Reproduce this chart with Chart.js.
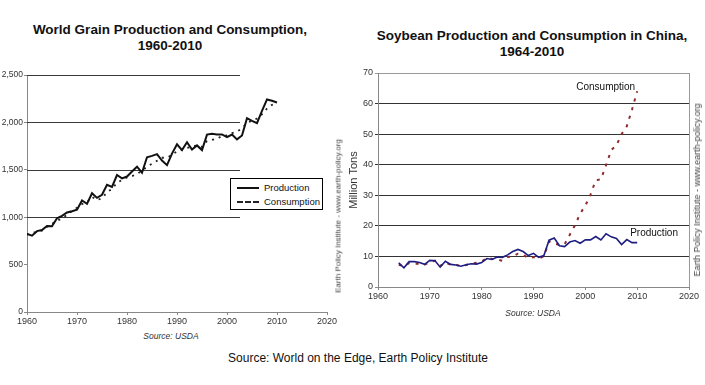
<!DOCTYPE html>
<html>
<head>
<meta charset="utf-8">
<script src="https://cdn.jsdelivr.net/npm/chart.js@4.4.1/dist/chart.umd.min.js"></script>
<style>
  html, body { margin: 0; padding: 0; background: #fff; }
  body { width: 705px; height: 385px; position: relative; overflow: hidden;
         font-family: "Liberation Sans", Arial, sans-serif; color: #111; }
  .abs { position: absolute; }
  .title { font-weight: bold; font-size: 13.5px; line-height: 16px; text-align: center; white-space: nowrap;
           transform: translateX(-50%); }
  .src { font-style: italic; font-size: 8.5px; color: #333; white-space: nowrap; transform: translate(-50%, -50%); }
  .vert { white-space: nowrap; color: #444; transform: translate(-50%, -50%) rotate(-90deg); }
  .box { position: absolute; left: 0; top: 0; }
  #legendGrain { position: absolute; left: 230px; top: 178px; width: 91px; height: 30px;
                 border: 1px solid #000; background: #fff; font-size: 9.5px; }
  #legendGrain .row { position: absolute; left: 0; height: 12px; line-height: 12px; white-space: nowrap; }
  #legendGrain .sample { position: absolute; left: 6px; top: 5px; width: 22px; height: 0; }
  #legendGrain .txt { position: absolute; left: 33px; top: 0; }
</style>
</head>
<body>
  <div class="abs title" style="left:170px; top:22px;">World Grain Production and Consumption,<br>1960-2010</div>
  <div class="abs title" style="left:532px; top:28px;">Soybean Production and Consumption in China,<br>1964-2010</div>

  <div class="box" style="left:0; top:60px; width:340px; height:270px;"><canvas id="chartGrain"></canvas></div>
  <div class="box" style="left:340px; top:60px; width:365px; height:260px;"><canvas id="chartSoy"></canvas></div>
  <div id="legendGrain"></div>

  <div class="abs vert" style="left:338px; top:216px; font-size:8px;">Earth Policy Institute - www.earth-policy.org</div>
  <div class="abs vert" style="left:697px; top:190px; font-size:9px;">Earth Policy Institute - www.earth-policy.org</div>

  <div class="abs src" style="left:171px; top:336px;">Source: USDA</div>
  <div class="abs src" style="left:533px; top:313px;">Source: USDA</div>
  <div class="abs" style="left:358px; top:358px; font-size:12px; white-space:nowrap; transform:translate(-50%,-50%);">Source: World on the Edge, Earth Policy Institute</div>

<script>
  // World grain, million tons
  const grainYears = [1960, 1961, 1962, 1963, 1964, 1965, 1966, 1967, 1968, 1969,
    1970, 1971, 1972, 1973, 1974, 1975, 1976, 1977, 1978, 1979,
    1980, 1981, 1982, 1983, 1984, 1985, 1986, 1987, 1988, 1989,
    1990, 1991, 1992, 1993, 1994, 1995, 1996, 1997, 1998, 1999,
    2000, 2001, 2002, 2003, 2004, 2005, 2006, 2007, 2008, 2009, 2010];
  const grainProduction = [824, 805, 853, 864, 908, 905, 988, 1014, 1050, 1063,
    1079, 1177, 1141, 1253, 1204, 1237, 1342, 1319, 1445, 1410,
    1429, 1482, 1533, 1469, 1632, 1647, 1665, 1598, 1549, 1671,
    1769, 1708, 1790, 1713, 1757, 1708, 1871, 1879, 1872, 1873,
    1844, 1872, 1821, 1862, 2044, 2017, 1992, 2121, 2242, 2229, 2210];
  const grainConsumption = [817, 832, 848, 858, 900, 930, 962, 986, 1024, 1066,
    1101, 1138, 1157, 1214, 1180, 1200, 1263, 1300, 1363, 1393,
    1420, 1433, 1456, 1491, 1533, 1564, 1595, 1627, 1627, 1656,
    1696, 1710, 1731, 1746, 1757, 1742, 1803, 1815, 1830, 1855,
    1862, 1887, 1903, 1938, 1992, 2020, 2040, 2086, 2146, 2186, 2196];

  // China soybeans, million tons
  const soyYears = [1964, 1965, 1966, 1967, 1968, 1969,
    1970, 1971, 1972, 1973, 1974, 1975, 1976, 1977, 1978, 1979,
    1980, 1981, 1982, 1983, 1984, 1985, 1986, 1987, 1988, 1989,
    1990, 1991, 1992, 1993, 1994, 1995, 1996, 1997, 1998, 1999,
    2000, 2001, 2002, 2003, 2004, 2005, 2006, 2007, 2008, 2009, 2010];
  const soyProduction = [7.9, 6.3, 8.3, 8.3, 8.0, 7.4,
    8.7, 8.6, 6.5, 8.4, 7.4, 7.2, 6.8, 7.3, 7.6, 7.5,
    8.0, 9.3, 9.0, 9.8, 9.7, 10.5, 11.6, 12.3, 11.6, 10.3,
    11.0, 9.7, 10.3, 15.3, 16.0, 13.5, 13.2, 14.7, 15.2, 14.3,
    15.4, 15.4, 16.5, 15.4, 17.4, 16.4, 15.9, 13.9, 15.5, 14.5, 14.5];
  const soyConsumption = [7.3, 6.8, 7.8, 7.6, 7.6, 7.3,
    8.2, 8.6, 6.9, 8.0, 7.3, 7.2, 6.9, 7.2, 7.7, 7.9,
    8.3, 9.5, 9.2, 9.0, 8.6, 9.8, 10.0, 10.9, 10.6, 9.4,
    9.8, 9.3, 10.0, 14.9, 14.2, 13.8, 14.0, 17.1, 20.2, 24.0,
    26.6, 30.2, 34.9, 35.2, 39.9, 44.8, 46.3, 50.0, 52.6, 58.0, 64.0];

  const xTicks = [1960, 1970, 1980, 1990, 2000, 2010, 2020];

  function points(xs, ys) {
    return xs.map((x, i) => ({ x, y: ys[i] }));
  }

  // grid lines that stop short of the right edge (left panel)
  const partialGrid = {
    id: 'partialGrid',
    beforeDatasetsDraw(chart, args, opts) {
      if (!opts || opts.endX == null) return;
      const { ctx, scales: { x, y } } = chart;
      ctx.save();
      ctx.strokeStyle = opts.color;
      ctx.lineWidth = 1;
      const x0 = x.left;
      const x1 = x.getPixelForValue(opts.endX);
      y.ticks.forEach(t => {
        if (t.value < opts.fromY) return;
        const py = Math.round(y.getPixelForValue(t.value)) + 0.5;
        ctx.beginPath();
        ctx.moveTo(x0, py);
        ctx.lineTo(x1, py);
        ctx.stroke();
      });
      ctx.restore();
    }
  };

  // right-hand frame line (right panel)
  const rightFrame = {
    id: 'rightFrame',
    beforeDatasetsDraw(chart, args, opts) {
      if (!opts || !opts.color) return;
      const { ctx, chartArea } = chart;
      ctx.save();
      ctx.strokeStyle = opts.color;
      ctx.lineWidth = 1;
      const px = Math.round(chartArea.right) + 0.5;
      ctx.beginPath();
      ctx.moveTo(px, chartArea.top);
      ctx.lineTo(px, chartArea.bottom);
      ctx.stroke();
      ctx.restore();
    }
  };

  // series names written next to the end of each line
  const seriesLabels = {
    id: 'seriesLabels',
    afterDatasetsDraw(chart, args, opts) {
      if (!opts || !opts.offsets) return;
      const { ctx } = chart;
      ctx.save();
      ctx.font = opts.font;
      ctx.fillStyle = opts.color;
      ctx.textBaseline = 'middle';
      chart.data.datasets.forEach((ds, i) => {
        const off = opts.offsets[i];
        if (!off) return;
        const meta = chart.getDatasetMeta(i);
        const last = meta.data[meta.data.length - 1];
        ctx.textAlign = off[2];
        ctx.fillText(ds.label, last.x + off[0], last.y + off[1]);
      });
      ctx.restore();
    }
  };

  const tickFont = { family: '"Liberation Sans", Arial, sans-serif', size: 9 };

  function xScale(fitHeight) {
    return {
      type: 'linear', min: 1960, max: 2020,
      afterBuildTicks: s => { s.ticks = xTicks.map(v => ({ value: v })); },
      ticks: { callback: v => String(v), font: tickFont, color: '#333', padding: 1, maxRotation: 0 },
      grid: { drawOnChartArea: false, drawTicks: true, tickLength: 3, color: '#888' },
      border: { color: '#888' },
      afterFit: s => { s.height = fitHeight; }
    };
  }

  const chartGrain = new Chart(document.getElementById('chartGrain'), {
    type: 'line',
    data: {
      datasets: [
        {
          label: 'Production',
          data: points(grainYears, grainProduction),
          borderColor: '#111',
          borderWidth: 2,
          pointRadius: 0,
          tension: 0
        },
        {
          label: 'Consumption',
          data: points(grainYears, grainConsumption),
          borderColor: '#222',
          borderWidth: 1.8,
          borderDash: [2, 5],
          pointRadius: 0,
          tension: 0
        }
      ]
    },
    options: {
      responsive: true,
      maintainAspectRatio: false,
      animation: false,
      layout: { padding: { top: 15, right: 13, left: 0, bottom: 0 } },
      scales: {
        x: xScale(18),
        y: {
          min: 0, max: 2500,
          ticks: { stepSize: 500, font: { family: tickFont.family, size: 8.5 }, color: '#333', padding: 1 },
          grid: { drawOnChartArea: false, drawTicks: true, tickLength: 3, color: '#888' },
          border: { color: '#888' },
          afterFit: s => { s.width = 27; }
        }
      },
      plugins: {
        legend: { display: false },
        tooltip: { enabled: false },
        partialGrid: { endX: 2002.6, fromY: 1000, color: '#3a3a3a' }
      }
    },
    plugins: [partialGrid]
  });

  const chartSoy = new Chart(document.getElementById('chartSoy'), {
    type: 'line',
    data: {
      datasets: [
        {
          label: 'Production',
          data: points(soyYears, soyProduction),
          borderColor: '#1e1e82',
          borderWidth: 1.6,
          pointRadius: 0,
          tension: 0
        },
        {
          label: 'Consumption',
          data: points(soyYears, soyConsumption),
          borderColor: '#8e2b2b',
          borderWidth: 2,
          borderDash: [3, 6],
          pointRadius: 0,
          tension: 0
        }
      ]
    },
    options: {
      responsive: true,
      maintainAspectRatio: false,
      animation: false,
      layout: { padding: { top: 13, right: 16, left: 0, bottom: 0 } },
      scales: {
        x: xScale(33),
        y: {
          min: 0, max: 70,
          ticks: { stepSize: 10, font: tickFont, color: '#333', padding: 2 },
          grid: {
            drawOnChartArea: true, drawTicks: true, tickLength: 3,
            color: ctx => (ctx.tick && ctx.tick.value === 70 ? '#999' : (ctx.tick && ctx.tick.value === 0 ? '#888' : '#333'))
          },
          border: { color: '#888' },
          title: { display: true, text: 'Million Tons', font: { family: '"Liberation Sans", Arial, sans-serif', size: 11 }, color: '#333', padding: { top: 7, bottom: 0 } },
          afterFit: s => { s.width = 38; }
        }
      },
      plugins: {
        legend: { display: false },
        tooltip: { enabled: false },
        rightFrame: { color: '#999' },
        seriesLabels: {
          font: '10px "Liberation Sans", Arial, sans-serif',
          color: '#111',
          offsets: [[-7, -9, 'left'], [-2, -4, 'right']]
        }
      }
    },
    plugins: [rightFrame, seriesLabels]
  });

  // legend box for the left panel, built from the chart's datasets
  (function buildLegend() {
    const box = document.getElementById('legendGrain');
    chartGrain.data.datasets.forEach((ds, i) => {
      const row = document.createElement('div');
      row.className = 'row';
      row.style.top = (3 + i * 14) + 'px';
      const sample = document.createElement('div');
      sample.className = 'sample';
      sample.style.borderTop = '2px ' + (ds.borderDash ? 'dashed ' : 'solid ') + ds.borderColor;
      const txt = document.createElement('div');
      txt.className = 'txt';
      txt.textContent = ds.label;
      row.appendChild(sample);
      row.appendChild(txt);
      box.appendChild(row);
    });
  })();
</script>
</body>
</html>
